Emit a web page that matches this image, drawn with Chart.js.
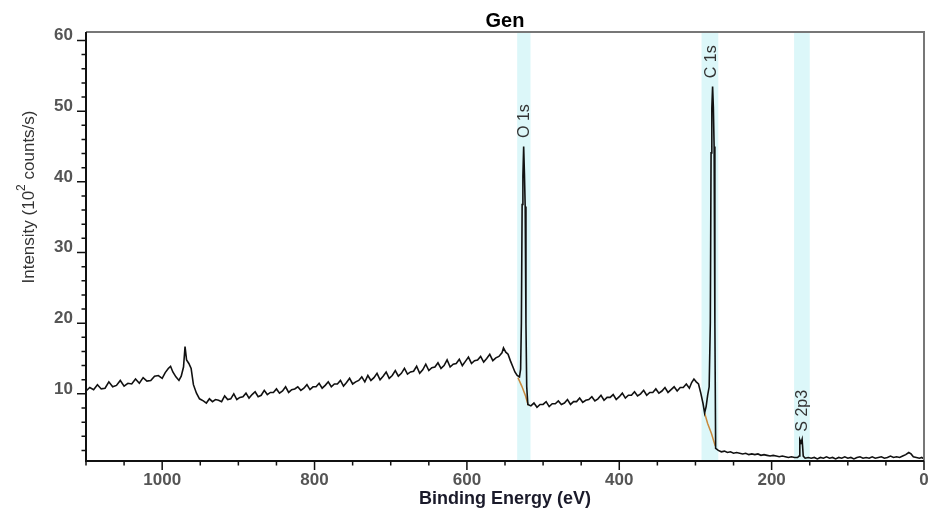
<!DOCTYPE html>
<html>
<head>
<meta charset="utf-8">
<script src="https://cdn.jsdelivr.net/npm/chart.js@4.4.1/dist/chart.umd.min.js"></script>
<style>
  html, body { margin: 0; padding: 0; background: #ffffff; }
  canvas { display: block; }
</style>
</head>
<body>
<canvas id="c" width="929" height="508"></canvas>
<script>
// ---------- data ----------
const chartTitle = "Gen";
const xAxisTitle = "Binding Energy (eV)";
const yAxisTitleParts = ["Intensity (10", "2", " counts/s)"];

const energies = [
  1100,1095,1090,1085,1080,1075,1070,1065,1060,1055,1050,1045,1040,1035,1030,1025,1020,1015,1010,1005,
  1000,996,992,989,986,982,978,975,972,970,968,965,962,959,955,951,946,942,938,934,
  930,926,922,918,914,910,906,902,898,894,890,886,882,878,874,870,866,862,858,854,
  850,846,842,838,834,830,826,822,818,814,810,806,802,798,794,790,786,782,778,774,
  770,766,762,758,754,750,746,742,738,734,730,726,722,718,714,710,706,702,698,694,
  690,686,682,678,674,670,666,662,658,654,650,646,642,638,634,630,626,622,618,614,
  610,606,602,598,594,590,586,582,578,574,570,566,562,558,554,552,549,546,543,540,
  537,534,531,529.5,528.5,527.5,526.5,525.5,524.5,523.5,522.5,521.5,520,516,512,508,504,500,496,492,
  488,484,480,476,472,468,464,460,456,452,448,444,440,436,432,428,424,420,416,412,
  408,404,400,396,392,388,384,380,376,372,368,364,360,356,352,348,344,340,336,332,
  328,324,320,316,312,308,305,302,299,296,293,290,288,286,284,282,280.5,279.5,278.5,277.5,
  276.5,275.5,274.5,273.5,270,266,262,258,254,250,246,242,238,234,230,226,222,218,214,210,
  206,202,198,194,190,186,182,178,174,170,166,164,163,161.5,160,158.5,156,152,148,144,
  140,136,132,128,124,120,116,112,108,104,100,96,92,88,84,80,76,72,68,64,
  60,56,52,48,44,40,36,32,28,24,20,17,14,10,6,3,0
];
const intensities = [
  10.4,10.9,10.6,11.3,10.7,10.8,11.7,11.0,11.2,11.9,11.1,11.5,11.4,12.1,11.5,12.3,11.8,11.9,12.5,12.6,
  12.2,13.0,13.6,13.9,13.1,12.4,11.9,12.5,13.8,16.7,14.8,14.3,13.6,11.3,10.1,9.3,9.0,8.7,9.3,8.9,
  9.2,9.1,8.9,9.7,9.2,9.3,10.0,9.2,9.5,9.6,10.1,9.4,9.9,10.3,9.6,9.8,10.5,9.9,10.2,10.2,
  10.7,10.1,10.4,11.0,10.2,10.6,10.7,11.0,10.5,10.8,11.3,10.6,11.0,11.0,11.5,10.8,11.2,11.7,11.0,11.4,
  11.4,11.9,11.1,11.6,12.2,11.4,11.7,11.9,12.4,11.7,12.6,11.9,12.3,12.9,12.0,12.5,13.1,12.2,12.6,13.3,
  12.5,12.9,13.6,12.8,13.1,13.2,13.9,12.9,13.4,14.2,13.3,13.7,13.8,14.4,13.6,14.0,14.8,13.8,14.2,14.3,
  14.9,14.0,14.6,15.2,14.3,14.7,14.8,15.3,14.5,15.0,15.6,14.7,15.1,15.3,15.8,16.5,15.9,15.6,14.7,13.9,
  13.1,12.6,12.4,13.5,20.0,36.8,40.8,45.0,41.2,36.5,20.0,11.0,8.5,8.3,8.7,8.1,8.5,8.5,8.9,8.2,
  8.6,8.6,9.0,8.5,8.7,9.2,8.5,8.9,8.9,9.4,8.8,9.1,9.2,9.6,9.0,9.3,9.8,9.1,9.5,9.5,
  9.9,9.2,9.6,10.1,9.4,9.8,9.8,10.3,9.7,10.0,10.5,9.8,10.2,10.2,10.7,10.1,10.4,10.9,10.2,10.6,
  11.0,10.4,10.9,10.9,11.4,10.8,11.6,12.1,11.7,11.4,10.1,8.6,7.3,8.2,9.8,11.0,20.0,44.1,50.4,53.5,
  50.6,45.0,20.0,2.3,2.0,1.8,1.9,1.7,1.8,1.6,1.7,1.6,1.5,1.6,1.4,1.5,1.4,1.5,1.3,1.4,
  1.3,1.2,1.3,1.2,1.1,1.2,1.1,1.0,1.1,1.0,1.0,1.2,3.5,3.1,3.6,1.2,0.9,1.0,0.9,1.0,
  0.8,1.0,0.9,1.1,0.9,1.0,0.8,1.0,0.9,1.1,0.9,1.0,0.8,1.0,1.1,0.9,1.0,0.9,1.1,0.9,
  1.0,1.1,0.9,1.0,1.2,1.0,1.1,1.0,1.2,1.4,1.7,1.5,1.1,1.0,0.9,1.0,0.8
];

// background (Shirley-like) fit segments under peaks
const bgO1sEnergies = [533, 528, 523, 519.5];
const bgO1sValues   = [12.3, 11.1, 9.7, 8.4];
const bgC1sEnergies = [288, 284, 279, 274];
const bgC1sValues   = [7.3, 5.8, 4.4, 2.6];

// peak regions and labels
const peakNames      = ["O 1s", "C 1s", "S 2p3"];
const bandStartEV    = [534, 292, 170.5];
const bandEndEV      = [516.5, 270, 150];
const labelEV        = [524, 279, 159.6];
const labelIntensity = [48.6, 57.0, 7.6];

// axis ticks
const xTickValues = [0, 200, 400, 600, 800, 1000];
const yTickValues = [10, 20, 30, 40, 50, 60];

// ---------- drawing ----------
const toPts = (xs, ys) => xs.map((v, i) => ({ x: v, y: ys[i] }));

const decorPlugin = {
  id: 'decor',
  beforeDatasetsDraw(chart) {
    const { ctx, chartArea: a, scales: { x } } = chart;
    ctx.save();
    ctx.fillStyle = '#dcf7f9';
    bandStartEV.forEach((s, i) => {
      const x1 = x.getPixelForValue(s), x2 = x.getPixelForValue(bandEndEV[i]);
      ctx.fillRect(Math.min(x1, x2), a.top, Math.abs(x2 - x1), a.bottom - a.top);
    });
    ctx.restore();
  },
  afterDatasetsDraw(chart) {
    const { ctx, chartArea: a, scales: { x, y } } = chart;
    ctx.save();
    // peak labels
    ctx.fillStyle = '#333333';
    ctx.font = '16px "Liberation Sans", Arial, sans-serif';
    ctx.textAlign = 'center';
    ctx.textBaseline = 'middle';
    peakNames.forEach((n, i) => {
      ctx.save();
      ctx.translate(x.getPixelForValue(labelEV[i]), y.getPixelForValue(labelIntensity[i]));
      ctx.rotate(-Math.PI / 2);
      ctx.fillText(n, 0, 0);
      ctx.restore();
    });
    // frame
    ctx.lineWidth = 2;
    ctx.strokeStyle = '#777777';
    ctx.beginPath();
    ctx.moveTo(a.left, a.top); ctx.lineTo(a.right, a.top); ctx.lineTo(a.right, a.bottom);
    ctx.stroke();
    ctx.strokeStyle = '#111111';
    ctx.beginPath();
    ctx.moveTo(a.left, a.top); ctx.lineTo(a.left, a.bottom); ctx.lineTo(a.right, a.bottom);
    ctx.stroke();
    // tick marks
    ctx.lineWidth = 1.5;
    ctx.beginPath();
    for (let v = 0; v <= 1100; v += 50) {
      const px = x.getPixelForValue(v);
      const len = (v % 200 === 0) ? 9 : 4.5;
      ctx.moveTo(px, a.bottom); ctx.lineTo(px, a.bottom + len);
    }
    for (let v = 2; v <= 60; v += 2) {
      const py = y.getPixelForValue(v);
      const len = (v % 10 === 0) ? 9 : 4.5;
      ctx.moveTo(a.left, py); ctx.lineTo(a.left - len, py);
    }
    ctx.stroke();
    // chart title
    ctx.fillStyle = '#000000';
    ctx.font = 'bold 20px "Liberation Sans", Arial, sans-serif';
    ctx.textAlign = 'center';
    ctx.textBaseline = 'middle';
    ctx.fillText(chartTitle, (a.left + a.right) / 2, 21);
    // y axis title with superscript
    const big = '17px "Liberation Sans", Arial, sans-serif';
    const small = '12px "Liberation Sans", Arial, sans-serif';
    ctx.fillStyle = '#333333';
    ctx.textAlign = 'left';
    ctx.textBaseline = 'middle';
    ctx.font = big; const w0 = ctx.measureText(yAxisTitleParts[0]).width;
    ctx.font = small; const w1 = ctx.measureText(yAxisTitleParts[1]).width;
    ctx.font = big; const w2 = ctx.measureText(yAxisTitleParts[2]).width;
    const total = w0 + w1 + w2;
    ctx.save();
    ctx.translate(29, 197);
    ctx.rotate(-Math.PI / 2);
    let cx = -total / 2;
    ctx.font = big; ctx.fillText(yAxisTitleParts[0], cx, 0); cx += w0;
    ctx.font = small; ctx.fillText(yAxisTitleParts[1], cx, -7); cx += w1;
    ctx.font = big; ctx.fillText(yAxisTitleParts[2], cx, 0);
    ctx.restore();
    ctx.restore();
  }
};

new Chart(document.getElementById('c'), {
  type: 'scatter',
  data: {
    datasets: [
      { data: toPts(energies, intensities), showLine: true, borderColor: '#111111', borderWidth: 1.6, pointRadius: 0, tension: 0 },
      { data: toPts(bgO1sEnergies, bgO1sValues), showLine: true, borderColor: '#c8883a', borderWidth: 1.5, pointRadius: 0 },
      { data: toPts(bgC1sEnergies, bgC1sValues), showLine: true, borderColor: '#c8883a', borderWidth: 1.5, pointRadius: 0 }
    ]
  },
  options: {
    responsive: false,
    animation: false,
    devicePixelRatio: 1,
    layout: { padding: { left: 0, right: 5, top: 32, bottom: 0 } },
    plugins: { legend: { display: false }, tooltip: { enabled: false }, title: { display: false } },
    scales: {
      x: {
        type: 'linear', reverse: true, min: 0, max: 1100,
        afterBuildTicks: s => { s.ticks = xTickValues.map(v => ({ value: v })); },
        afterFit: s => { s.height = 47; },
        grid: { display: false, drawTicks: false },
        border: { display: false },
        ticks: { color: '#555555', padding: 9, maxRotation: 0, callback: v => String(v), font: { family: '"Liberation Sans", Arial, sans-serif', size: 17, weight: 'bold' } },
        title: { display: true, text: xAxisTitle, color: '#1a1a2a', padding: { top: 0, bottom: 0 }, font: { family: '"Liberation Sans", Arial, sans-serif', size: 18, weight: 'bold', lineHeight: 1 } }
      },
      y: {
        type: 'linear', min: 0.5, max: 61.2,
        afterBuildTicks: s => { s.ticks = yTickValues.map(v => ({ value: v })); },
        afterFit: s => { s.width = 86; },
        grid: { display: false, drawTicks: false },
        border: { display: false },
        ticks: { color: '#555555', padding: 13, labelOffset: -5, callback: v => String(v), font: { family: '"Liberation Sans", Arial, sans-serif', size: 17, weight: 'bold' } }
      }
    }
  },
  plugins: [decorPlugin]
});
</script>
</body>
</html>
